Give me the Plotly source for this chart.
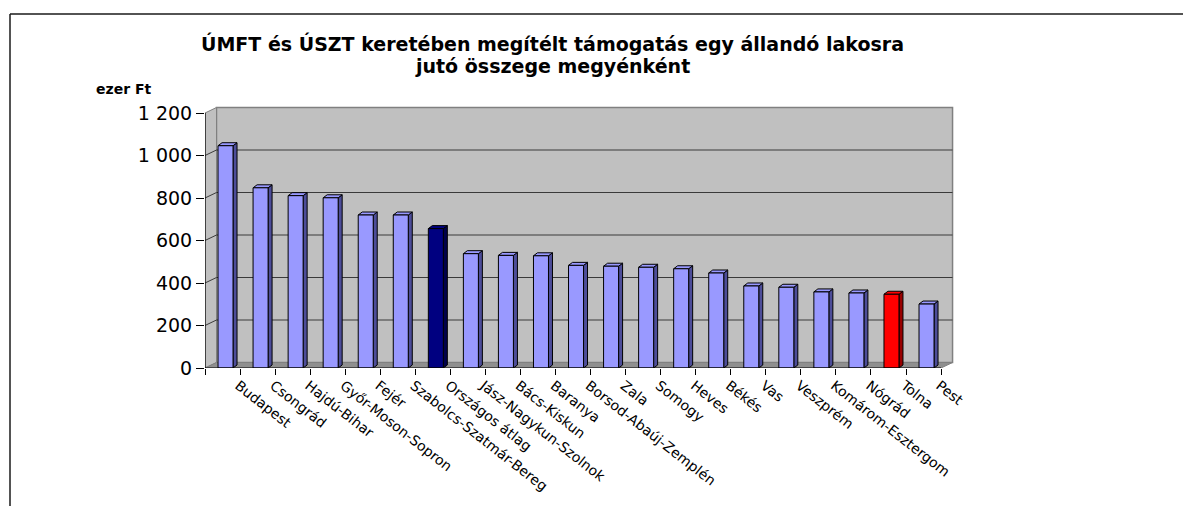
import plotly.graph_objects as go

# Per-capita support (thousand HUF) by county, sorted descending
categories = [
    "Budapest", "Csongrád", "Hajdú-Bihar", "Győr-Moson-Sopron", "Fejér",
    "Szabolcs-Szatmár-Bereg", "Országos átlag", "Jász-Nagykun-Szolnok",
    "Bács-Kiskun", "Baranya", "Borsod-Abaúj-Zemplén", "Zala", "Somogy",
    "Heves", "Békés", "Vas", "Veszprém", "Komárom-Esztergom", "Nógrád",
    "Tolna", "Pest",
]
values = [
    1046, 848, 811, 801, 720, 720, 656, 538, 530, 528, 483, 479, 474,
    467, 447, 386, 380, 358, 353, 347, 301,
]
y_tickvals = [0, 200, 400, 600, 800, 1000, 1200]
y_ticktext = ["0", "200", "400", "600", "800", "1 000", "1 200"]

title_lines = [
    "ÚMFT és ÚSZT keretében megítélt támogatás egy állandó lakosra",
    "jutó összege megyénként",
]
unit_text = "ezer Ft"

# ---- colours -------------------------------------------------------------
BAR_FACE = "#9999FF"
BAR_SIDE = "#4D4D99"
highlight = {
    "Országos átlag": ("#000080", "#00004A"),
    "Tolna": ("#FF0000", "#990000"),
}
WALL = "#C0C0C0"
WALL_EDGE = "#808080"
FLOOR = "#8F8F8F"
GRID = "#3A3A3A"

# ---- page geometry (pixels) ------------------------------------------------
W, H = 1183, 506
M_L, M_R, M_T, M_B = 205, 218, 100, 138
PLOT_W = W - M_L - M_R
PLOT_H = H - M_T - M_B
PX_PER_CAT = 35.05
PX_PER_VAL = 0.2125

X0 = -0.5
XMAX = X0 + PLOT_W / PX_PER_CAT
YMAX = PLOT_H / PX_PER_VAL
n = len(categories)
XEND = X0 + n

# pseudo-3D depth of the walls and of the columns, in data units
DXW, DYW = 11.5 / PX_PER_CAT, 5.5 / PX_PER_VAL
DXB, DYB = 4.0 / PX_PER_CAT, 3.0 / PX_PER_VAL
BAR_W = 15.0 / PX_PER_CAT
BAR_SHIFT = 3.0 / PX_PER_CAT


def px_x(px):
    return (px - M_L) / PLOT_W


def px_y(py):
    return (H - M_B - py) / PLOT_H


def poly(points):
    return "M " + " L ".join(f"{x},{y}" for x, y in points) + " Z"


shapes = []

# back wall, side wall, floor
shapes.append(dict(type="path", xref="x", yref="y", layer="below",
                   path=poly([(X0 + DXW, DYW), (XEND + DXW, DYW),
                              (XEND + DXW, 1200 + DYW), (X0 + DXW, 1200 + DYW)]),
                   fillcolor=WALL, line=dict(color=WALL_EDGE, width=1.5)))
shapes.append(dict(type="path", xref="x", yref="y", layer="below",
                   path=poly([(X0, 0), (X0, 1200), (X0 + DXW, 1200 + DYW),
                              (X0 + DXW, DYW)]),
                   fillcolor=WALL, line=dict(color=WALL_EDGE, width=1)))
shapes.append(dict(type="path", xref="x", yref="y", layer="below",
                   path=poly([(X0, 0), (XEND, 0), (XEND + DXW, DYW),
                              (X0 + DXW, DYW)]),
                   fillcolor=FLOOR, line=dict(color=WALL_EDGE, width=1)))

# gridlines on the back wall and the side wall
for v in y_tickvals[1:-1]:
    shapes.append(dict(type="line", xref="x", yref="y", layer="below",
                       x0=X0 + DXW, x1=XEND + DXW, y0=v + DYW, y1=v + DYW,
                       line=dict(color=GRID, width=1.2)))
    shapes.append(dict(type="line", xref="x", yref="y", layer="below",
                       x0=X0, x1=X0 + DXW, y0=v, y1=v + DYW,
                       line=dict(color=GRID, width=1)))

# column side and top faces
face_colors = [highlight.get(c, (BAR_FACE, BAR_SIDE)) for c in categories]
bar_x = [i + BAR_SHIFT for i in range(n)]
for cx, v, (front, side) in zip(bar_x, values, face_colors):
    left, right = cx - BAR_W / 2, cx + BAR_W / 2
    shapes.append(dict(type="path", xref="x", yref="y", layer="below",
                       path=poly([(right, 0), (right + DXB, DYB),
                                  (right + DXB, v + DYB), (right, v)]),
                       fillcolor=side, line=dict(color="black", width=1)))
    shapes.append(dict(type="path", xref="x", yref="y", layer="below",
                       path=poly([(left, v), (left + DXB, v + DYB),
                                  (right + DXB, v + DYB), (right, v)]),
                       fillcolor=front, line=dict(color="black", width=1)))

# axis lines
shapes.append(dict(type="line", xref="x", yref="y", x0=X0, x1=X0, y0=0, y1=1200,
                   line=dict(color="black", width=1.2)))
shapes.append(dict(type="line", xref="x", yref="y", x0=X0, x1=XEND, y0=0, y1=0,
                   line=dict(color="black", width=1.2)))

# chart-area frame (top and left edges)
shapes.append(dict(type="line", xref="paper", yref="paper",
                   x0=px_x(10), x1=px_x(W + 5), y0=px_y(14), y1=px_y(14),
                   line=dict(color="#1A1A1A", width=1.5)))
shapes.append(dict(type="line", xref="paper", yref="paper",
                   x0=px_x(10), x1=px_x(10), y0=px_y(14), y1=px_y(H + 5),
                   line=dict(color="#1A1A1A", width=1.5)))

fig = go.Figure()
fig.add_trace(go.Bar(
    x=bar_x, y=values, width=BAR_W,
    marker=dict(color=[f for f, _ in face_colors],
                line=dict(color="black", width=1)),
    hovertext=categories, hoverinfo="text+y",
))

title_font = dict(family="DejaVu Sans", size=19, color="black", weight="bold")
annotations = [
    dict(text=line, xref="paper", yref="paper",
         x=px_x(552), y=px_y(py), xanchor="center", yanchor="middle",
         showarrow=False, font=title_font)
    for line, py in zip(title_lines, (43, 66))
]
annotations.append(
    dict(text=unit_text, xref="paper", yref="paper",
         x=px_x(123), y=px_y(89), xanchor="center", yanchor="middle",
         showarrow=False,
         font=dict(family="DejaVu Sans", size=14, color="black", weight="bold")))

fig.update_layout(
    width=W, height=H,
    margin=dict(l=M_L, r=M_R, t=M_T, b=M_B, autoexpand=False),
    paper_bgcolor="white", plot_bgcolor="rgba(0,0,0,0)",
    showlegend=False,
    shapes=shapes,
    font=dict(family="DejaVu Sans", color="black"),
    xaxis=dict(
        range=[X0, XMAX], showgrid=False, zeroline=False, showline=False,
        tickmode="array", tickvals=[i + 0.45 for i in range(n)],
        ticktext=categories, ticks="", tickangle=38, ticklabelstandoff=6,
        tickfont=dict(family="DejaVu Sans", size=14, color="black"),
        minor=dict(tickmode="array", tickvals=[X0 + i for i in range(n + 1)],
                   ticks="outside", ticklen=6, tickcolor="black", tickwidth=1,
                   showgrid=False),
        fixedrange=True,
    ),
    yaxis=dict(
        range=[0, YMAX], showgrid=False, zeroline=False, showline=False,
        tickmode="array", tickvals=y_tickvals, ticktext=y_ticktext,
        ticks="outside", ticklen=8, tickcolor="black", tickwidth=1.2,
        tickfont=dict(family="DejaVu Sans", size=19, color="black"),
        fixedrange=True,
    ),
    annotations=annotations,
)

fig.write_html("out.html")
